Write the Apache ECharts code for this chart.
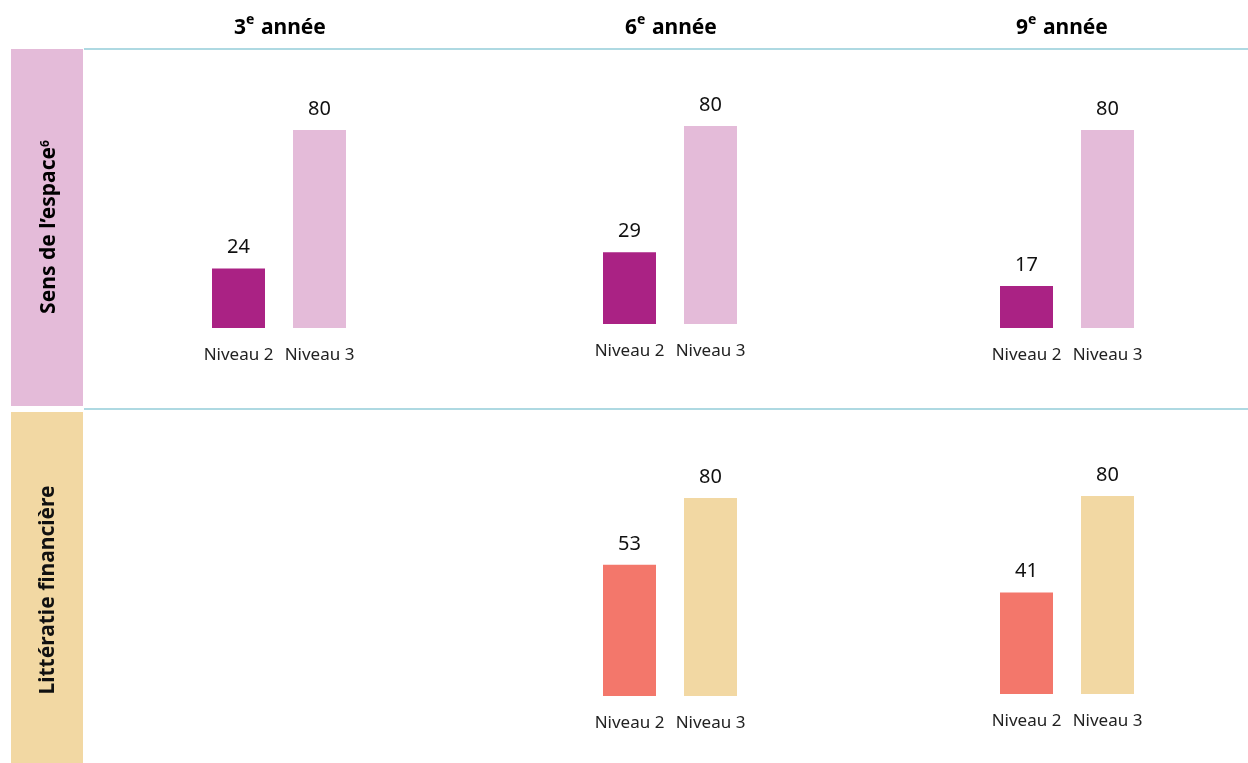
<!DOCTYPE html>
<html>
<head>
<meta charset="utf-8">
<script src="https://cdn.jsdelivr.net/npm/echarts@6/dist/echarts.min.js"></script>
<style>html,body{margin:0;padding:0;background:#fff;}#c{width:1248px;height:763px;}</style>
</head>
<body>
<div id="c"></div>
<script>
// ---- data ----
var gradeNumbers = ['3', '6', '9'];
var gradeSuffix = ' année';
var levels = ['Niveau 2', 'Niveau 3'];
var domains = ['Sens de l’espace', 'Littératie financière'];
var sensEspace3 = [24, 80];
var sensEspace6 = [29, 80];
var sensEspace9 = [17, 80];
var litteratie3 = null;
var litteratie6 = [53, 80];
var litteratie9 = [41, 80];

// ---- layout / style ----
var FONT = 'Noto Sans';
var darkColors = ['#aa2284', '#f3776b'];
var lightColors = ['#e4bbd9', '#f2d8a3'];
var lineColor = '#93cdd8';
var panelLefts = [198, 589, 986];
var panelW = 162;
var rowBaselines = [[328, 324, 328], [696, 696, 694]];
var plotH = 198;

var rows = [[sensEspace3, sensEspace6, sensEspace9], [litteratie3, litteratie6, litteratie9]];

var grids = [], xAxes = [], yAxes = [], series = [];
rows.forEach(function (row, r) {
  row.forEach(function (vals, g) {
    if (!vals) return;
    var idx = grids.length;
    grids.push({left: panelLefts[g], width: panelW, top: rowBaselines[r][g] - plotH, height: plotH});
    xAxes.push({type: 'category', gridIndex: idx, data: levels,
      axisLine: {show: false}, axisTick: {show: false},
      axisLabel: {interval: 0, color: '#222', fontFamily: FONT, fontSize: 17, margin: 19}});
    yAxes.push({type: 'value', gridIndex: idx, min: 0, max: 80, show: false, splitLine: {show: false}});
    series.push({type: 'bar', xAxisIndex: idx, yAxisIndex: idx, barWidth: 53,
      data: vals.map(function (v, i) {
        return {value: v, itemStyle: {color: i === 0 ? darkColors[r] : lightColors[r]}};
      }),
      label: {show: true, position: 'top', distance: 11, color: '#111', fontFamily: FONT, fontSize: 20}
    });
  });
});

var headerCenters = [280, 671, 1062];
var graphics = [];
headerCenters.forEach(function (cx, i) {
  graphics.push({type: 'text', x: cx, y: 26, style: {
    text: '{n|' + gradeNumbers[i] + '}{s|e}{n|' + gradeSuffix + '}',
    align: 'center', verticalAlign: 'middle',
    rich: {
      n: {fontFamily: FONT, fontWeight: 'bold', fontSize: 21, color: '#111', lineHeight: 26, verticalAlign: 'bottom'},
      s: {fontFamily: FONT, fontWeight: 'bold', fontSize: 14, color: '#111', lineHeight: 26, verticalAlign: 'top', padding: [0, 1, 3, 0]}
    }
  }});
});
// lines
graphics.push({type: 'line', shape: {x1: 84, y1: 49, x2: 1248, y2: 49}, style: {stroke: lineColor, lineWidth: 1.5}});
graphics.push({type: 'line', shape: {x1: 84, y1: 409, x2: 1248, y2: 409}, style: {stroke: lineColor, lineWidth: 1.5}});
// row label boxes
graphics.push({type: 'rect', shape: {x: 11, y: 49, width: 72, height: 357}, style: {fill: lightColors[0]}});
graphics.push({type: 'rect', shape: {x: 11, y: 412, width: 72, height: 351}, style: {fill: lightColors[1]}});
graphics.push({type: 'text', x: 48, y: 227, rotation: Math.PI / 2, style: {
  text: '{t|' + domains[0] + '}{s|6}', align: 'center', verticalAlign: 'middle',
  rich: {
    t: {fontFamily: FONT, fontWeight: 'bold', fontSize: 21, color: '#111', lineHeight: 24, verticalAlign: 'bottom'},
    s: {fontFamily: FONT, fontWeight: 'bold', fontSize: 12, color: '#111', lineHeight: 24, verticalAlign: 'top', padding: [4, 0, 0, 0]}
  }
}});
graphics.push({type: 'text', x: 48, y: 590, rotation: Math.PI / 2, style: {
  text: domains[1], align: 'center', verticalAlign: 'middle',
  fontFamily: FONT, fontWeight: 'bold', fontSize: 21, fill: '#111'
}});

var chart = echarts.init(document.getElementById('c'));
chart.setOption({
  animation: false,
  grid: grids, xAxis: xAxes, yAxis: yAxes, series: series,
  graphic: graphics
});
</script>
</body>
</html>
